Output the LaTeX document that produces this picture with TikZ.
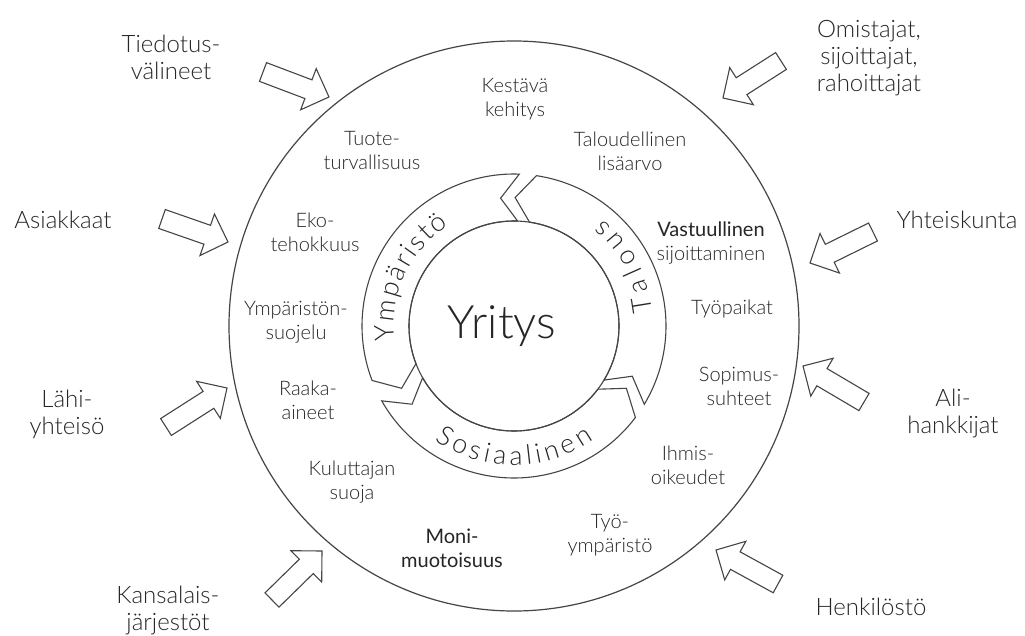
\documentclass[tikz,border=0pt]{standalone}
\usepackage{fontspec}
\setmainfont{Lato Light}
\newfontfamily\latoreg{Lato}
\usetikzlibrary{calc,decorations.text}
\definecolor{ink}{HTML}{262626}
\definecolor{linec}{HTML}{454545}
\newcommand{\bkarrow}[2]{%
  \coordinate (#1-h) at ($(#2)!22pt!(#1)$);
  \draw[barrow] ($(#1)!10pt!90:(#2)$) -- ($(#1-h)!10pt!90:(#2)$) -- ($(#1-h)!22pt!90:(#2)$) -- (#2) -- ($(#1-h)!22pt!-90:(#2)$) -- ($(#1-h)!10pt!-90:(#2)$) -- ($(#1)!10pt!-90:(#2)$) -- cycle;}
\begin{document}
\begin{tikzpicture}[x=1pt,y=1pt,
  lbl/.style={text=ink, align=center, font=\fontsize{20}{24}\selectfont, inner sep=0pt},
  olbl/.style={text=ink, align=center, font=\fontsize{24}{27}\selectfont, inner sep=0pt},
  ringseg/.style={draw=linec, line width=1.1pt, fill=white, line join=miter},
  barrow/.style={draw=linec, line width=1.1pt, fill=white, line join=miter},
  ringtext/.style={decorate, decoration={text along path, text color=ink, text align={fit to path}, text={#1}}}
  ]
\useasboundingbox[fill=white] (0,0) rectangle (1025,-635);
\coordinate (C) at (514,-326);
\node[circle, draw=linec, line width=1.2pt, minimum size=570pt, inner sep=0pt] (outer) at (C) {};
% ring
\begin{scope}[shift={(C)}]
\foreach \a/\b in {-31/81.5, 88/201, 209.5/323}{
  \draw[ringseg] (\a:152) arc[start angle=\a, end angle=\b, radius=152] -- ({\b+8}:128.5) -- (\b:105) arc[start angle=\b, end angle=\a, radius=105] -- ({\a+8}:128.5) -- cycle;
}
\path[ringtext={|\fontsize{27}{27}\selectfont|Ympäristö}] (187:120) arc[start angle=187, end angle=123, radius=120];
\path[ringtext={|\fontsize{27}{27}\selectfont|Talous}] (6:139) arc[start angle=6, end angle=50, radius=139];
\path[ringtext={|\fontsize{27}{27}\selectfont|Sosiaalinen}] (235:139) arc[start angle=235, end angle=305, radius=139];
\end{scope}
\node[circle, draw=linec, line width=1.1pt, minimum size=210pt, inner sep=0pt] (core) at (C) {};
\node[text=ink, font=\fontsize{46}{46}\selectfont, anchor=base] (yritys) at (502,-338) {Yritys};
% inner labels
\node[lbl] (kestava) at (515,-99) {Kestävä\\kehitys};
\node[lbl] (tuote) at (372,-151) {Tuote-\\turvallisuus};
\node[lbl] (talarvo) at (630,-151) {Taloudellinen\\lisäarvo};
\node[lbl] (eko) at (315,-232) {Eko-\\tehokkuus};
\node[lbl] (vastuu) at (711,-243) {{\latoreg Vastuullinen}\\sijoittaminen};
\node[lbl] (ympsuo) at (296,-322) {Ympäristön-\\suojelu};
\node[lbl] (tyopaikat) at (732,-309) {Työpaikat};
\node[lbl] (raaka) at (308,-400) {Raaka-\\aineet};
\node[lbl] (sopimus) at (739,-386) {Sopimus-\\suhteet};
\node[lbl] (kuluttaja) at (352,-482) {Kuluttajan\\suoja};
\node[lbl] (ihmis) at (688,-465) {Ihmis-\\oikeudet};
\node[lbl, font=\fontsize{20}{24}\latoreg] (moni) at (452,-548) {Moni-\\muotoisuus};
\node[lbl] (tyoymp) at (610,-535) {Työ-\\ympäristö};
% outer labels
\node[olbl] (tiedotus) at (171,-57) {Tiedotus-\\välineet};
\node[olbl] (omistajat) at (869,-58) {Omistajat,\\sijoittajat,\\rahoittajat};
\node[olbl] (asiakkaat) at (63,-220) {Asiakkaat};
\node[olbl] (yhteiskunta) at (957,-220) {Yhteiskunta};
\node[olbl] (lahi) at (67,-414) {Lähi-\\yhteisö};
\node[olbl] (ali) at (953,-413) {Ali-\\hankkijat};
\node[olbl] (kansalais) at (168,-610) {Kansalais-\\järjestöt};
\node[olbl] (henkilosto) at (871,-607) {Henkilöstö};
% block arrows
\coordinate (a1) at (263,-72);  \coordinate (b1) at (329,-97);
\coordinate (a2) at (781,-61);  \coordinate (b2) at (723,-98);
\coordinate (a3) at (162,-219); \coordinate (b3) at (228,-242);
\coordinate (a4) at (873,-232); \coordinate (b4) at (810,-263);
\coordinate (a5) at (166,-427); \coordinate (b5) at (227,-388);
\coordinate (a6) at (864,-402); \coordinate (b6) at (803,-366);
\coordinate (a7) at (272,-600); \coordinate (b7) at (322,-551);
\coordinate (a8) at (778,-584); \coordinate (b8) at (716,-550);
\foreach \i in {1,...,8}{\bkarrow{a\i}{b\i}}
\end{tikzpicture}
\end{document}
